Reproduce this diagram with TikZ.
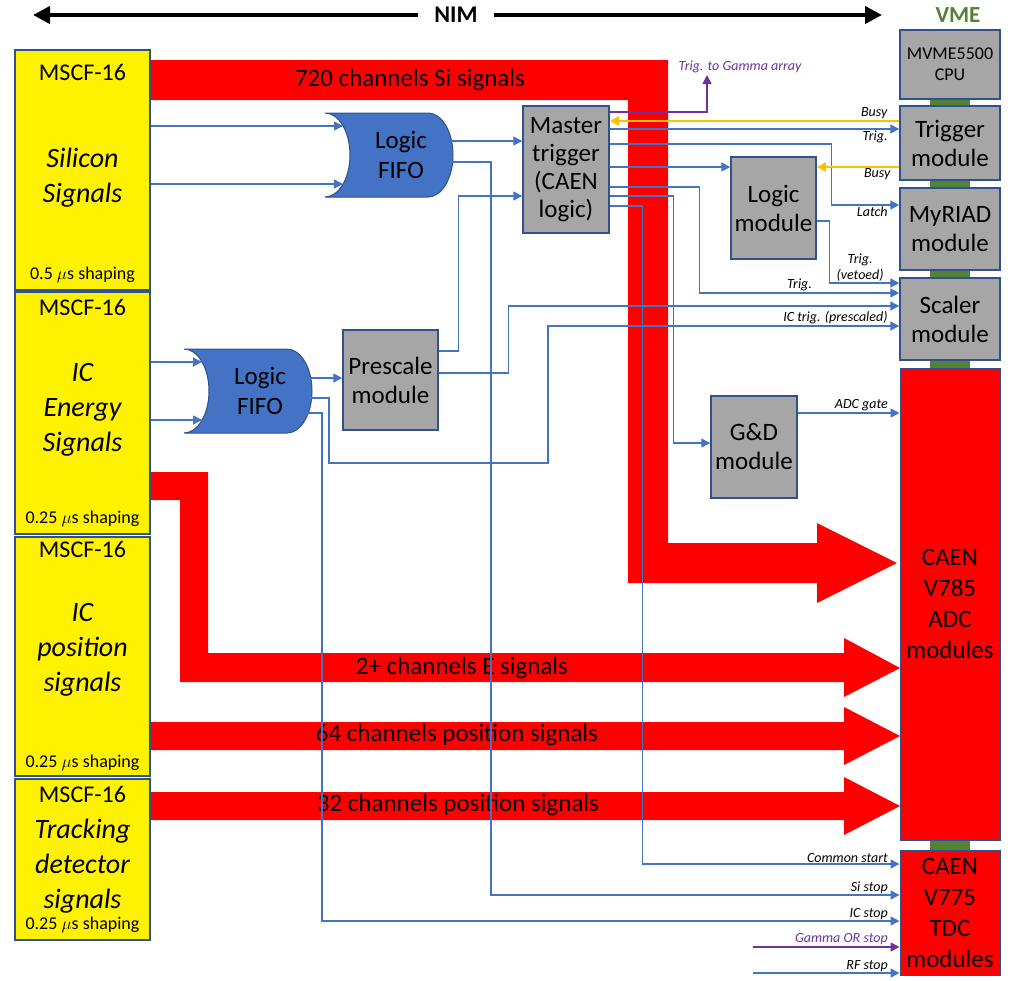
\documentclass[tikz,border=0pt]{standalone}
\usepackage{fontspec}
\setmainfont{Carlito}
\usetikzlibrary{arrows.meta}
\definecolor{frame}{HTML}{2F528F}
\definecolor{sigblue}{HTML}{4472C4}
\definecolor{busyorange}{HTML}{FFC000}
\definecolor{gammapurple}{HTML}{7030A0}
\definecolor{vmegreen}{HTML}{548235}
\definecolor{modgrey}{HTML}{A6A6A6}
\newcommand{\setfs}[2]{\fontsize{#1}{#2}\selectfont}
\newcommand{\logicfifo}[3]{%
  \filldraw[fifoshape] (#2-76,#3-42) .. controls (#2-62.2,#3-42) and (#2-51,#3-23.2) .. (#2-51,#3)
    .. controls (#2-51,#3+23.2) and (#2-62.2,#3+42) .. (#2-76,#3+42)
    -- (#2+27,#3+42) .. controls (#2+40.8,#3+42) and (#2+52,#3+23.2) .. (#2+52,#3)
    .. controls (#2+52,#3-23.2) and (#2+40.8,#3-42) .. (#2+27,#3-42) -- cycle;
  \node[fifotext] (#1) at (#2,#3) {Logic\\FIFO};
  \coordinate (#1-e) at (#2+46,#3);
  \coordinate (#1-in1) at (#2-58,#3-29);
  \coordinate (#1-in2) at (#2-58,#3+29);}

\begin{document}
\begin{tikzpicture}[x=1pt,y=-1pt,>={Triangle[length=9pt,width=9pt]},
 mscf/.style={draw=frame,line width=1.5pt,fill=yellow,minimum width=135pt,inner sep=0pt},
 unit/.style={font=\setfs{24}{28}},
 kind/.style={font=\itshape\setfs{28}{35},align=center},
 shaping/.style={font=\setfs{18}{20}},
 module/.style={draw=frame,line width=1.5pt,fill=modgrey,minimum width=100pt,
  inner sep=0pt,align=center,font=\setfs{25}{29}},
 vmered/.style={module,fill=red,line width=1pt,font=\setfs{25}{31}},
 fifoshape/.style={fill=sigblue,draw=frame,line width=1pt},
 fifotext/.style={align=center,font=\setfs{25}{30}},
 band/.style={font=\setfs{25}{28}},
 sig/.style={draw=sigblue,line width=1.4pt,->},
 busy/.style={draw=busyorange,line width=1.8pt,->},
 gam/.style={draw=gammapurple,line width=1.6pt,->},
 tag/.style={font=\itshape\setfs{14}{16},inner sep=1pt}]
\useasboundingbox (0,0) rectangle (1011,980);

\fill[red] (150,60) -- (668,60) -- (668,543) -- (817,543) -- (817,523) -- (897,563)
  -- (817,603) -- (817,583) -- (628,583) -- (628,100) -- (150,100) -- cycle;
\fill[red] (150,472) -- (208,472) -- (208,653) -- (844,653) -- (844,638) -- (900,668)
  -- (844,697) -- (844,682) -- (180,682) -- (180,500) -- (150,500) -- cycle;
\fill[red] (150,722) -- (844,722) -- (844,707) -- (900,736) -- (844,765) -- (844,750)
  -- (150,750) -- cycle;
\fill[red] (150,792) -- (844,792) -- (844,777) -- (900,806) -- (844,835) -- (844,820)
  -- (150,820) -- cycle;
\node[band] (si-band) at (410,80) {720 channels Si signals};
\node[band] (e-band) at (462,668) {2+ channels E signals};
\node[band] (p64-band) at (457,735) {64 channels position signals};
\node[band] (p32-band) at (458,805) {32 channels position signals};

\node[font=\bfseries\setfs{24}{26},inner xsep=16pt] (nim) at (456,15) {NIM};
\coordinate (nim-l) at (33,15);
\coordinate (nim-r) at (882,15);
\draw[line width=4pt,-{Triangle[length=17pt,width=17pt]}] (nim.west) -- (nim-l);
\draw[line width=4pt,-{Triangle[length=17pt,width=17pt]}] (nim.east) -- (nim-r);
\node[font=\bfseries\setfs{23}{26},text=vmegreen] (vme) at (958,15) {VME};

\node[mscf,minimum height=240pt] (si) at (82.5,170) {};
\node[mscf,minimum height=242pt] (ice) at (82.5,413) {};
\node[mscf,minimum height=239pt] (icp) at (82.5,656.5) {};
\node[mscf,minimum height=161pt] (trk) at (82.5,859.5) {};
\node[unit] (si-name) at (82.5,72) {MSCF-16};
\node[kind] (si-kind) at (82.5,177.5) {Silicon\\Signals};
\node[shaping] (si-shape) at (82.5,275) {0.5 $\mu$s shaping};
\node[unit] (ice-name) at (82.5,307) {MSCF-16};
\node[kind] (ice-kind) at (82.5,410) {IC\\Energy\\Signals};
\node[shaping] (ice-shape) at (82.5,519) {0.25 $\mu$s shaping};
\node[unit] (icp-name) at (82.5,549) {MSCF-16};
\node[kind] (icp-kind) at (82.5,650) {IC\\position\\signals};
\node[shaping] (icp-shape) at (82.5,763) {0.25 $\mu$s shaping};
\node[unit] (trk-name) at (82.5,794) {MSCF-16};
\node[kind] (trk-kind) at (82.5,866) {Tracking\\detector\\signals};
\node[shaping] (trk-shape) at (82.5,925) {0.25 $\mu$s shaping};

\fill[vmegreen] (930,99) rectangle (970,850);
\node[module,minimum height=69pt,font=\setfs{18}{21}] (cpu) at (950,64.5) {MVME5500\\CPU};
\node[module,minimum height=74pt] (trigm) at (950,143) {Trigger\\module};
\node[module,minimum height=82pt] (myriad) at (950,229) {MyRIAD\\module};
\node[module,minimum height=82pt] (scaler) at (950,319) {Scaler\\module};
\node[vmered,minimum height=472pt] (adc) at (950,604) {CAEN\\V785\\ADC\\modules};
\node[vmered,minimum height=125pt] (tdc) at (950,912.5) {CAEN\\V775\\TDC\\modules};

\node[module,minimum width=86pt,minimum height=127pt,font=\setfs{25}{28}] (mt) at (566,169.5)
  {Master\\trigger\\(CAEN\\logic)};
\node[module,minimum width=85pt,minimum height=102pt] (logm) at (773.5,208) {Logic\\module};
\node[module,minimum width=95pt,minimum height=100pt] (pre) at (390.5,380) {Prescale\\module};
\node[module,minimum width=86pt,minimum height=102pt] (gd) at (754,447) {G\&D\\module};
\logicfifo{fifo1}{401}{155}
\logicfifo{fifo2}{260}{391}
\coordinate (gamma-out) at (707,75);
\coordinate (gamma-in) at (753,947);
\coordinate (rf-in) at (753,973);

\draw[sig] (si.east |- fifo1-in1) -- (fifo1-in1);
\draw[sig] (si.east |- fifo1-in2) -- (fifo1-in2);
\draw[sig] (ice.east |- fifo2-in1) -- (fifo2-in1);
\draw[sig] (ice.east |- fifo2-in2) -- (fifo2-in2);
\draw[sig] ([yshift=14pt]fifo1-e) -- ([yshift=28.5pt]mt.west);
\draw[sig] ([yshift=-7pt]fifo1-e) -- ++(44,0) |- node[tag,pos=1,above left,xshift=-10pt]
  {Si stop} ([yshift=17.5pt]tdc.west);
\draw[sig] ([yshift=13pt]fifo2-e) -- ([yshift=2pt]pre.west);
\draw[sig] ([yshift=-7pt]fifo2-e) -| ++(23,65) -| ++(219,-137) -- node[tag,pos=1,above left,
  xshift=-10pt] {IC trig. (prescaled)} ([yshift=-7pt]scaler.west);
\draw[sig] ([yshift=-22pt]fifo2-e) -- ++(16,0) |- node[tag,pos=1,above left,xshift=-10pt]
  {IC stop} ([yshift=-8.5pt]tdc.west);
\draw[sig] ([yshift=29pt]pre.east) -- ++(20,0) |- ([yshift=-26.5pt]mt.west);
\draw[sig] ([yshift=7pt]pre.east) -- ++(70,0) |- ([yshift=13pt]scaler.west);
\draw[gam] ([yshift=57.5pt]mt.east) -| node[tag,pos=1,above,xshift=33pt,text=gammapurple]
  {Trig. to Gamma array} (gamma-out);
\draw[busy] ([yshift=22pt]trigm.west) -- node[tag,pos=0,above left,xshift=-10pt] {Busy}
  ([yshift=48.5pt]mt.east);
\draw[sig] ([yshift=40.5pt]mt.east) -- node[tag,pos=1,below left,xshift=-10pt] {Trig.}
  ([yshift=14pt]trigm.west);
\draw[sig] ([yshift=25.5pt]mt.east) -- ++(222,0) |- node[tag,pos=1,below left,xshift=-10pt]
  {Latch} ([yshift=24pt]myriad.west);
\draw[sig] ([yshift=2.5pt]mt.east) -- ([yshift=41pt]logm.west);
\draw[busy] ([yshift=-24pt]trigm.west) -- node[tag,pos=0,below left,xshift=-7pt] {Busy}
  ([yshift=41pt]logm.east);
\draw[sig] ([yshift=-13pt]logm.east) -- ++(13,0) |- node[tag,pos=1,above left,xshift=-14pt,
  align=center] {Trig.\\(vetoed)} ([yshift=36pt]scaler.west);
\draw[sig] ([yshift=-17.5pt]mt.east) -- ++(90,0) |- node[tag,pos=0.75,above] {Trig.}
  ([yshift=26pt]scaler.west);
\draw[sig] ([yshift=-26.5pt]mt.east) -- ++(64,0) |- ([yshift=4pt]gd.west);
\draw[sig] ([yshift=-36.5pt]mt.east) -- ++(33,0) |- node[tag,pos=1,above left,xshift=-10pt]
  {Common start} ([yshift=48.5pt]tdc.west);
\draw[sig] ([yshift=34pt]gd.east) -- node[tag,pos=1,above left,xshift=-10pt] {ADC gate}
  ([yshift=191pt]adc.west);
\draw[gam] (gamma-in) -- node[tag,pos=1,above left,xshift=-10pt,text=gammapurple]
  {Gamma OR stop} ([yshift=-34.5pt]tdc.west);
\draw[sig] (rf-in) -- node[tag,pos=1,above left,xshift=-10pt] {RF stop} ([yshift=-60.5pt]tdc.west);
\end{tikzpicture}
\end{document}
